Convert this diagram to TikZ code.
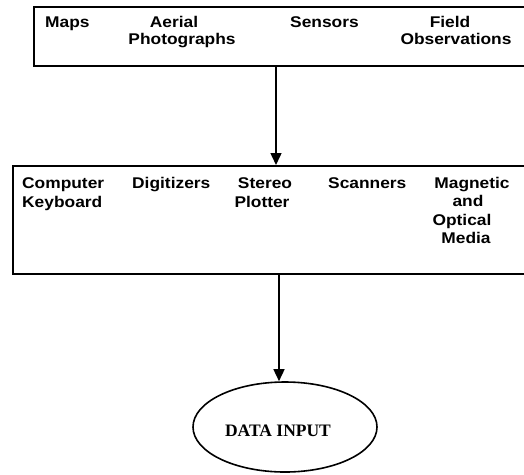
\documentclass[tikz,border=0pt]{standalone}
\usepackage{fontspec}
\setmainfont{Liberation Sans}[FakeStretch=1.12]
\newfontfamily\titlefont{Liberation Serif}
\usetikzlibrary{arrows.meta,shapes.geometric}
\begin{document}
\begin{tikzpicture}[x=1pt,y=-1pt,
  frame/.style={draw, line width=1.6pt, inner sep=0pt, anchor=north west},
  lbl/.style={inner sep=0pt, font=\fontsize{15.5}{18}\selectfont\bfseries},
  flow/.style={line width=1.5pt, -{Triangle[length=12pt,width=11pt]}}]
  \useasboundingbox (0,0) rectangle (524,474);
  \clip (0,0) rectangle (524,474);

  % sources of data
  \node[frame, minimum width=510pt, minimum height=59pt] (src) at (33,6) {};
  \node[lbl, anchor=base west] (maps) at (45,27) {Maps};
  \node[lbl, anchor=base] (aer1) at (174,27) {Aerial};
  \node[lbl, anchor=base] (aer2) at (182,44) {Photographs};
  \node[lbl, anchor=base west] (sens) at (290,27) {Sensors};
  \node[lbl, anchor=base] (fld1) at (450,27) {Field};
  \node[lbl, anchor=base] (fld2) at (456,44) {Observations};

  % input devices
  \node[frame, minimum width=530pt, minimum height=108pt] (dev) at (12,165) {};
  \node[lbl, anchor=base west] (comp1) at (22,188) {Computer};
  \node[lbl, anchor=base west] (comp2) at (22,207) {Keyboard};
  \node[lbl, anchor=base west] (digi) at (132,188) {Digitizers};
  \node[lbl, anchor=base] (ster1) at (265,188) {Stereo};
  \node[lbl, anchor=base] (ster2) at (262,207) {Plotter};
  \node[lbl, anchor=base west] (scan) at (328,188) {Scanners};
  \node[lbl, anchor=base] (mag1) at (472,188) {Magnetic};
  \node[lbl, anchor=base] (mag2) at (468,206) {and};
  \node[lbl, anchor=base] (mag3) at (462,225) {Optical};
  \node[lbl, anchor=base] (mag4) at (466,243) {Media};

  % result
  \node[draw, ellipse, line width=1.6pt, minimum width=184pt, minimum height=90pt,
        inner sep=0pt] (din) at (285,427) {};
  \node[inner sep=0pt, anchor=base, font=\titlefont\fontsize{17.5}{20}\selectfont\bfseries]
        (dlbl) at (278,436) {DATA INPUT};

  % flow between stages
  \coordinate (c1) at (276,0);
  \coordinate (c2) at (279,0);
  \draw[flow] (src.south -| c1) -- (dev.north -| c1);
  \draw[flow] (dev.south -| c2) -- (din.north -| c2);
\end{tikzpicture}
\end{document}
